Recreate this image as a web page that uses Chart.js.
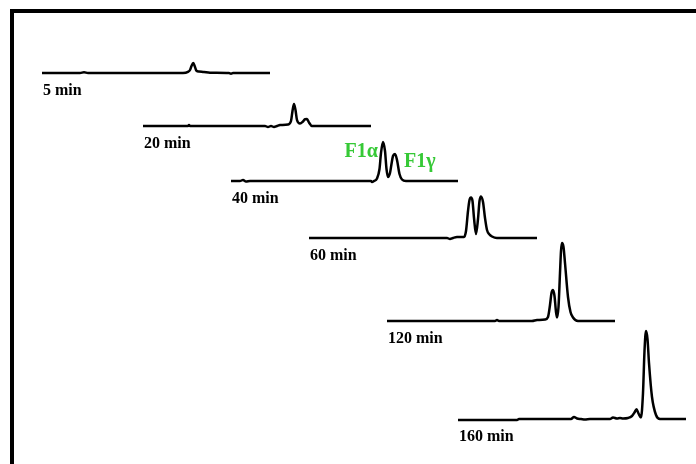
<!DOCTYPE html>
<html>
<head>
<meta charset="utf-8">
<script src="https://cdn.jsdelivr.net/npm/chart.js@4/dist/chart.umd.min.js"></script>
<style>
 body{ margin:0; background:#fff; width:696px; height:464px; overflow:hidden; position:relative; }
 #frame{ position:absolute; left:10px; top:9px; right:0; bottom:0; border-top:4px solid #000; border-left:4px solid #000; }
 .trace{ position:absolute; }
 .lbl{ position:absolute; font-family:"Liberation Serif","Times New Roman",serif; font-weight:bold; font-size:16px; line-height:16px; color:#000; white-space:nowrap; }
</style>
</head>
<body>
<div id="frame"></div>
<div id="wrap"></div>
<script>

 // sample times (labels for each chromatogram)
 let sampleLabels = ["5 min", "20 min", "40 min", "60 min", "120 min", "160 min"];

 // retention (min) and detector signal for each run
 let rt5  = [0, 7.6, 8.4, 9.2, 28.2, 29.2, 29.6, 29.9, 30.25, 30.6, 30.9, 31.4, 32.4, 33.6, 37.4, 37.8, 38.2, 45.6];
 let sig5 = [0, 0, 0.8, 0, 0, 1.2, 3, 7, 10, 6, 2.2, 1.5, 1, 0.3, 0, -0.7, 0, 0];

 let rt20  = [0, 9.0, 9.2, 9.4, 24.4, 25.0, 25.6, 26.2, 26.8, 27.4, 29.0, 29.6, 29.9, 30.2, 30.5, 30.8, 31.4, 32.0, 32.4, 32.8, 33.2, 33.8, 45.6];
 let sig20 = [0, 0, 1, 0, 0, -1, 0, -1, 0, 1, 1.5, 5, 15, 22, 16, 6, 2.5, 4.5, 6.8, 7, 3.5, 0, 0];

 let rt40  = [0, 1.8, 2.4, 3.0, 3.8, 28.0, 28.2, 28.6, 29.2, 29.7, 30.0, 30.4, 30.8, 31.1, 31.4, 31.8, 32.1, 32.4, 32.8, 33.2, 33.7, 34.2, 35.0, 45.4];
 let sig40 = [0, 0, 1, -0.5, 0, 0, -1, 0, 2.5, 12, 28, 39, 30, 12, 4, 8, 17, 25, 27, 21, 7, 1.5, 0, 0];

 let rt60  = [0, 27.6, 28.2, 28.8, 29.6, 31.0, 31.4, 31.8, 32.1, 32.4, 32.7, 33.0, 33.4, 33.8, 34.1, 34.4, 34.8, 35.2, 35.6, 36.1, 36.6, 37.6, 45.6];
 let sig60 = [0, 0, -1, 0, 1, 1, 7, 27, 38, 40.5, 37, 20, 4, 19, 37, 41.5, 36, 20, 8, 3.5, 1.5, 0, 0];

 let rt120  = [0, 21.6, 22.0, 22.4, 29.0, 30.0, 31.6, 32.2, 32.6, 32.9, 33.2, 33.5, 33.8, 34.0, 34.3, 34.6, 34.8, 35.0, 35.3, 35.6, 36.2, 36.7, 37.2, 38.2, 45.6];
 let sig120 = [0, 0, 1, 0, 0, 1, 1.5, 4, 16, 28, 31, 25, 9, 3.4, 14, 48, 70, 78, 74, 58, 24, 9, 3.5, 0, 0];

 let rt160  = [0, 11.8, 12.2, 22.6, 23.2, 23.8, 24.6, 25.4, 26.4, 30.4, 31.0, 31.8, 32.4, 33.0, 34.0, 34.8, 35.3, 35.7, 36.1, 36.6, 37.0, 37.3, 37.6, 37.9, 38.2, 38.8, 39.6, 40.4, 45.6];
 let sig160 = [-1, -1, 0, 0, 2, 0.5, 0, -0.5, 0, 0, 1.5, 0.5, 1, 0.5, 1, 3, 6.5, 9.7, 5.5, 1.5, 26, 68, 88, 80, 56, 22, 4, 0, 0];

 let runs = [[rt5, sig5], [rt20, sig20], [rt40, sig40], [rt60, sig60], [rt120, sig120], [rt160, sig160]];

 // peak names on the 40 min run
 let peakNames = ["F1α", "F1γ"];
 let peakRt    = [30.4, 32.8];
 let peakSig   = [29, 19];

 // where each trace sits on the page (left edge, baseline)
 let place = [[42, 73], [143, 126], [231, 181], [309, 238], [387, 321], [458, 419]];
 let pad = 4;

 //green peak labels
 const peakLabels = {
   id: "peakLabels",
   afterDatasetsDraw(chart){
     let ctx = chart.ctx;
     let xs = chart.scales.x, ys = chart.scales.y;
     ctx.save();
     ctx.fillStyle = "#36c936";
     ctx.font = "bold 20px 'Liberation Serif', serif";
     ctx.textBaseline = "middle";
     ctx.textAlign = "right";
     ctx.fillText(peakNames[0], xs.getPixelForValue(peakRt[0]) - 5, ys.getPixelForValue(peakSig[0]));
     ctx.textAlign = "left";
     ctx.fillText(peakNames[1], xs.getPixelForValue(peakRt[1]) + 9, ys.getPixelForValue(peakSig[1]));
     ctx.restore();
   }
 };

 let wrap = document.getElementById("wrap");

 runs.forEach((run, i) => {
   let cv = document.createElement("canvas");
   cv.className = "trace";
   cv.width = 228 + pad * 2;
   cv.height = 100 + pad * 2;
   cv.style.left = (place[i][0] - pad) + "px";
   cv.style.top = (place[i][1] - 95 - pad) + "px";
   wrap.appendChild(cv);

   let lbl = document.createElement("div");
   lbl.className = "lbl";
   lbl.style.left = (place[i][0] + 1) + "px";
   lbl.style.top = (place[i][1] + 9) + "px";
   lbl.innerHTML = sampleLabels[i];
   wrap.appendChild(lbl);

   let pts = run[0].map((t, k) => ({x: t, y: run[1][k]}));

   new Chart(cv, {
     type: "line",
     data: {
       datasets: [{
         data: pts,
         borderColor: "#000",
         borderWidth: 2.5,
         pointRadius: 0,
         fill: false,
         cubicInterpolationMode: "monotone",
         clip: false
       }]
     },
     options: {
       responsive: false,
       animation: false,
       devicePixelRatio: 1,
       layout: { padding: pad },
       scales: {
         x: { type: "linear", min: 0, max: 45.6, display: false },
         y: { min: -5, max: 95, display: false }
       },
       plugins: { legend: { display: false }, tooltip: { enabled: false } }
     },
     plugins: i == 2 ? [peakLabels] : []
   });
 });

</script>
</body>
</html>
